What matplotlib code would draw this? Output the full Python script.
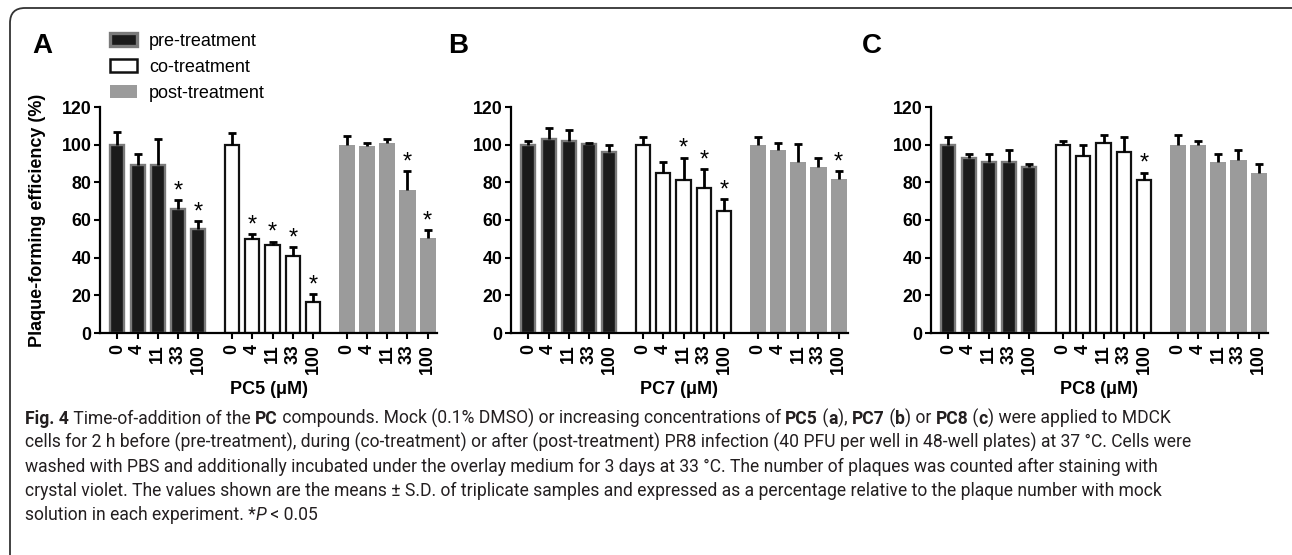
import matplotlib
matplotlib.use("Agg")
import matplotlib.pyplot as plt
import numpy as np
from matplotlib.font_manager import FontProperties
from matplotlib.patches import FancyBboxPatch, Patch
from matplotlib.transforms import IdentityTransform

# ---------------- data ----------------
concentrations = ["0", "4", "11", "33", "100"]
treatments = ["pre-treatment", "co-treatment", "post-treatment"]
compounds = ["PC5", "PC7", "PC8"]
panel_letters = ["A", "B", "C"]

# PC5
pc5_pre_mean = [100, 89, 89, 66, 55]
pc5_pre_sd = [6.5, 6, 14, 4.5, 4.5]
pc5_co_mean = [100, 50, 46.5, 41, 16.6]
pc5_co_sd = [6, 2.5, 2, 4.5, 4]
pc5_post_mean = [100, 99.5, 101, 76, 50.5]
pc5_post_sd = [4.4, 1.5, 2, 10, 4]
pc5_pre_sig = [0, 0, 0, 1, 1]
pc5_co_sig = [0, 1, 1, 1, 1]
pc5_post_sig = [0, 0, 0, 1, 1]

# PC7
pc7_pre_mean = [100, 103, 102, 100.5, 96]
pc7_pre_sd = [2, 6, 6, 0.5, 4]
pc7_co_mean = [100, 85, 81, 77, 65]
pc7_co_sd = [4, 6, 12, 10, 6]
pc7_post_mean = [100, 97.4, 91, 88, 82]
pc7_post_sd = [4, 3.6, 9.4, 5, 4]
pc7_pre_sig = [0, 0, 0, 0, 0]
pc7_co_sig = [0, 0, 1, 1, 1]
pc7_post_sig = [0, 0, 0, 0, 1]

# PC8
pc8_pre_mean = [100, 93, 91, 91, 88]
pc8_pre_sd = [4, 2.2, 4, 6.4, 2]
pc8_co_mean = [100, 94, 101, 96, 81]
pc8_co_sd = [2, 6, 4, 8, 4.2]
pc8_post_mean = [100, 100, 91, 92, 85]
pc8_post_sd = [5, 2, 4, 5.4, 5]
pc8_pre_sig = [0, 0, 0, 0, 0]
pc8_co_sig = [0, 0, 0, 0, 1]
pc8_post_sig = [0, 0, 0, 0, 0]

y_ticks = [0, 20, 40, 60, 80, 100, 120]
y_label = "Plaque-forming efficiency (%)"

caption_lines = [
    [("Fig. 4", "b"), (" Time-of-addition of the ", "r"), ("PC", "b"),
     (" compounds. Mock (0.1% DMSO) or increasing concentrations of ", "r"),
     ("PC5", "b"), (" (", "r"), ("a", "b"), ("), ", "r"), ("PC7", "b"), (" (", "r"),
     ("b", "b"), (") or ", "r"), ("PC8", "b"), (" (", "r"), ("c", "b"),
     (") were applied to MDCK", "r")],
    [("cells for 2 h before (pre-treatment), during (co-treatment) or after (post-treatment) "
      "PR8 infection (40 PFU per well in 48-well plates) at 37 °C. Cells were", "r")],
    [("washed with PBS and additionally incubated under the overlay medium for 3 days at 33 °C. "
      "The number of plaques was counted after staining with", "r")],
    [("crystal violet. The values shown are the means ± S.D. of triplicate samples and expressed "
      "as a percentage relative to the plaque number with mock", "r")],
    [("solution in each experiment. *", "r"), ("P", "i"), (" < 0.05", "r")],
]

panels = [
    ([pc5_pre_mean, pc5_co_mean, pc5_post_mean], [pc5_pre_sd, pc5_co_sd, pc5_post_sd],
     [pc5_pre_sig, pc5_co_sig, pc5_post_sig]),
    ([pc7_pre_mean, pc7_co_mean, pc7_post_mean], [pc7_pre_sd, pc7_co_sd, pc7_post_sd],
     [pc7_pre_sig, pc7_co_sig, pc7_post_sig]),
    ([pc8_pre_mean, pc8_co_mean, pc8_post_mean], [pc8_pre_sd, pc8_co_sd, pc8_post_sd],
     [pc8_pre_sig, pc8_co_sig, pc8_post_sig]),
]

# ---------------- style ----------------
W, H = 1292, 555
plt.rcParams["font.family"] = ["Liberation Sans", "DejaVu Sans"]
fig = plt.figure(figsize=(W / 100, H / 100), dpi=100)

styles = [
    dict(color="#1a1a1a", edgecolor="#7a7a7a", linewidth=1.7, width=0.70),
    dict(color="white", edgecolor="#111111", linewidth=1.6, width=0.70),
    dict(color="#9b9b9b", edgecolor="none", linewidth=0, width=0.80),
]

group_step = 5.67
axes_left_px = [100, 511, 931]
ax_w_px, ax_bottom_px, ax_h_px = 337, 555 - 333, 226
tick_fs = 12.8
label_fs = 13

axes = []
for p, (means, sds, sigs) in enumerate(panels):
    ax = fig.add_axes([axes_left_px[p] / W, ax_bottom_px / H, ax_w_px / W, ax_h_px / H])
    axes.append(ax)
    xticks, xlabels = [], []
    for g in range(3):
        x = g * group_step + np.arange(len(concentrations))
        st = styles[g]
        ax.bar(x, means[g], width=st["width"], color=st["color"], edgecolor=st["edgecolor"],
               linewidth=st["linewidth"], zorder=2, label=treatments[g])
        eb = ax.errorbar(x, means[g], yerr=[np.zeros(len(x)), sds[g]], fmt="none",
                         ecolor="black", elinewidth=2.0, capsize=3.2, capthick=2.0, zorder=3)
        caps = eb[1]
        if len(caps) >= 1:
            caps[0].set_visible(False)
        for xi, m, s, sg in zip(x, means[g], sds[g], sigs[g]):
            if sg:
                ax.text(xi, m + s + 1.5, "*", ha="center", va="baseline", fontsize=17,
                        color="black", zorder=4)
        xticks.extend(x)
        xlabels.extend(concentrations)
    ax.set_xlim(-0.86, 15.8)
    ax.set_ylim(0, 120)
    ax.set_yticks(y_ticks)
    ax.set_yticklabels([str(v) for v in y_ticks], fontsize=tick_fs, fontweight="bold")
    ax.set_xticks(xticks)
    ax.set_xticklabels(xlabels, rotation=90, fontsize=tick_fs, fontweight="bold",
                       ha="center", va="top")
    for sp in ["top", "right"]:
        ax.spines[sp].set_visible(False)
    for sp in ["left", "bottom"]:
        ax.spines[sp].set_linewidth(1.6)
        ax.spines[sp].set_color("black")
    ax.tick_params(axis="both", direction="out", length=4, width=1.5, color="black")
    ax.tick_params(axis="y", pad=2)
    ax.tick_params(axis="x", pad=4)
    ax.set_xlabel(f"{compounds[p]} (μM)", fontsize=label_fs, fontweight="bold",
                  va="center")
    ax.xaxis.set_label_coords(0.5, (333 - 389) / ax_h_px)
    ax.patch.set_visible(False)

axes[0].set_ylabel(y_label, fontsize=label_fs, fontweight="bold", va="center")
axes[0].yaxis.set_label_coords((37 - 100) / ax_w_px, 0.5)

# panel letters
letter_x = [32, 448, 862]
for lx, lt in zip(letter_x, panel_letters):
    fig.text(lx / W, 1 - 53 / H, lt, fontsize=20, fontweight="bold", ha="left",
             va="baseline")

# legend
handles = [Patch(facecolor=s["color"], edgecolor=s["edgecolor"],
                 linewidth=(2.4 if i == 0 else s["linewidth"] + 0.2)) for i, s in enumerate(styles)]
fig.legend(handles, treatments, loc="upper left", bbox_to_anchor=(110 / W, 1 - 33 / H),
           frameon=False, fontsize=13, handlelength=1.5, handleheight=0.75,
           handletextpad=0.65, labelspacing=0.5, borderaxespad=0, borderpad=0)

# frame
frame = FancyBboxPatch((10, -30), 1300, 555 - 8 + 30,
                       boxstyle="round,pad=0,rounding_size=15",
                       transform=IdentityTransform(), facecolor="none",
                       edgecolor="#333333", linewidth=1.3)
fig.add_artist(frame)

# caption
cap_family = "Roboto"
renderer = fig.canvas.get_renderer()


def fp_for(kind, size):
    kw = dict(family=[cap_family, "DejaVu Sans"], size=size)
    if kind == "b":
        kw["weight"] = "bold"
    if kind == "i":
        kw["style"] = "italic"
    return FontProperties(**kw)


def seg_w(s, fp):
    w1, _, _ = renderer.get_text_width_height_descent(s + "|", fp, ismath=False)
    w0, _, _ = renderer.get_text_width_height_descent("|", fp, ismath=False)
    return w1 - w0


test_size = 12.0
w_line1 = sum(seg_w(s, fp_for(k, test_size)) for s, k in caption_lines[0])
cap_size = test_size * 1145.0 / w_line1
max_w = max(sum(seg_w(s, fp_for(k, cap_size)) for s, k in ln) for ln in caption_lines)
if max_w > 1235:
    cap_size *= 1235.0 / max_w

x0 = 25
base_y0 = 423.5
dy = 24.2
for li, line in enumerate(caption_lines):
    x = x0
    y = H - (base_y0 + li * dy)
    for s, k in line:
        fp = fp_for(k, cap_size)
        fig.text(x / W, y / H, s, fontproperties=fp, ha="left", va="baseline",
                 color="#231f20")
        x += seg_w(s, fp)

fig.savefig("out.png", dpi=100)
